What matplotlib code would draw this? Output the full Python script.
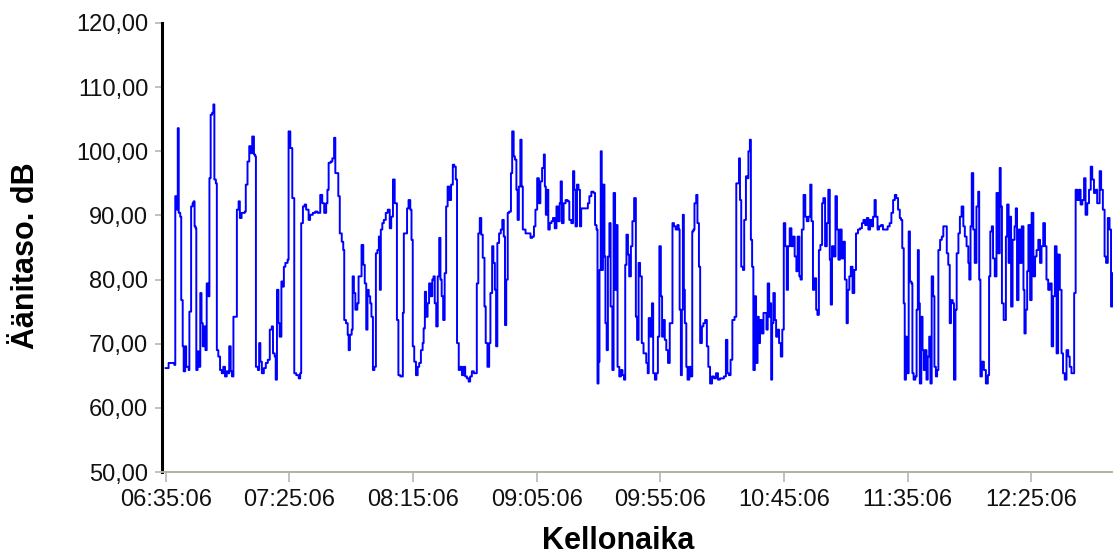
import matplotlib
matplotlib.use("Agg")
import matplotlib.pyplot as plt

plt.rcParams["font.family"] = ["Liberation Sans", "DejaVu Sans"]

# minutes after 06:35:06, sound level in dB
TIME_MIN = [
    0.0, 0.8, 1.2, 3.5, 3.9, 4.3, 4.6, 4.9, 5.3, 5.9, 6.3, 6.9, 7.3, 7.9, 8.3, 9.3, 9.6, 9.9,
    10.3, 10.9, 11.3, 11.7, 12.1, 12.4, 12.9, 13.4, 14.0, 14.5, 15.0, 15.6, 16.1, 16.6, 17.3,
    17.7, 18.2, 18.8, 19.3, 19.7, 20.3, 20.7, 21.3, 22.0, 22.7, 23.3, 24.0, 24.7, 25.3, 25.7,
    26.3, 26.8, 27.4, 28.4, 28.8, 29.5, 30.0, 30.7, 32.0, 32.4, 33.1, 33.8, 34.3, 35.0, 35.7,
    36.2, 36.5, 37.3, 37.8, 38.3, 38.9, 39.7, 40.5, 41.3, 42.1, 42.9, 43.4, 44.1, 44.5, 45.0,
    45.6, 46.1, 46.8, 47.4, 47.8,
    48.4, 49.3, 49.7, 50.4, 50.8, 51.2, 51.8, 52.0, 52.8, 53.8, 54.4, 54.8, 55.5, 56.2, 56.8,
    57.8, 58.4, 59.5, 60.5, 61.4, 62.5, 63.3, 64.1, 64.9, 65.4, 65.9, 66.7, 67.4, 68.1, 68.6,
    69.2, 69.8, 70.4, 71.2, 71.8, 72.2, 72.9, 73.6, 74.0, 74.5, 75.2, 75.6, 76.1, 76.7, 77.5,
    78.0, 78.7, 79.2, 79.9, 80.5, 81.1, 81.6, 82.1, 82.7, 83.2, 83.8, 84.4, 85.0, 85.6, 86.2,
    86.6, 87.0, 87.6, 88.2, 89.0, 89.8, 90.6, 91.2, 91.9, 92.6, 93.1, 93.5, 94.1, 94.9, 95.5,
    95.9, 96.3,
    96.9, 97.6, 98.2, 98.9, 99.4, 99.9, 100.5, 101.2, 101.9, 102.5, 103.2, 103.9, 104.3, 104.8,
    105.3, 105.9, 106.5, 107.1, 107.8, 108.3, 108.8, 109.4, 110.0, 110.6, 111.1, 111.6, 112.2,
    112.8, 113.4, 114.0, 114.7, 115.4, 116.1, 116.7, 117.3, 117.8, 118.5, 119.1, 119.8, 120.5,
    121.1, 121.8, 122.5, 123.1, 123.8, 124.6, 125.4, 125.8, 126.4, 127.0, 127.6, 128.2, 128.9,
    129.4, 130.1, 130.8, 131.3, 132.0, 132.5, 133.1, 133.6, 134.1, 134.8, 135.5, 136.1, 136.7,
    137.2, 137.7, 138.3, 138.9, 139.6, 140.1, 140.7, 141.2, 141.8, 142.3, 142.8, 143.4, 143.9,
    144.4, 144.8,
    145.5, 146.4, 147.5, 148.2, 148.9, 149.5, 150.2, 150.9, 151.5, 152.2, 152.9, 153.3, 153.7,
    154.2, 154.7, 155.3, 156.0, 156.6, 157.3, 158.0, 158.6, 159.3, 159.7, 160.2, 160.9, 161.7,
    162.5, 163.2, 164.0, 164.7, 165.2, 165.7, 166.3, 166.9, 167.5, 168.0, 168.9, 169.9, 170.7,
    171.3, 172.1, 173.0, 173.6, 174.2, 174.6, 175.0, 175.4, 175.9, 176.3, 176.8, 177.4, 177.8,
    178.3, 178.8, 179.4, 179.9, 180.6, 181.1, 181.7, 182.2, 182.7, 183.4, 184.1, 184.7, 185.3,
    185.8, 186.3, 186.9, 187.4, 188.1, 188.7, 189.4, 190.1, 190.6, 191.2, 191.8, 192.5, 193.2,
    194.3, 194.9, 195.3, 196.0, 196.6, 197.1, 197.8, 198.4, 199.0, 199.6, 200.2, 200.7, 201.2,
    201.8, 202.4, 203.1, 203.8, 204.4, 204.9, 205.5, 206.2, 206.9, 207.4, 207.8, 208.3, 208.7,
    209.1, 209.5, 209.9, 210.5, 211.0, 211.7, 212.3, 212.9, 213.4, 213.8, 214.5, 215.0, 215.6,
    216.1, 216.8, 217.4, 218.1, 218.8, 219.4, 220.1, 220.9, 221.7, 222.5, 223.3, 224.1, 225.1,
    225.7, 226.5, 227.1, 227.7, 228.4, 229.1, 230.0, 230.7, 231.2, 231.8, 232.2, 232.7, 233.4,
    233.9, 234.6, 235.1, 235.6, 236.2, 236.6, 237.1, 237.6, 238.2, 238.7, 239.3, 239.8, 240.3,
    241.0, 241.7,
    242.9, 243.4, 244.0, 244.4, 244.8, 245.2, 245.7, 246.3, 246.8, 247.5, 248.0, 248.7, 249.3,
    249.9, 250.5, 251.1, 251.6, 252.3, 253.0, 253.6, 254.3, 255.0, 255.5, 256.2, 256.7, 257.2,
    257.9, 258.6, 259.2, 259.9, 260.6, 261.1, 261.7, 262.3, 263.0, 263.5, 264.1, 264.7, 265.4,
    265.9, 266.6, 267.3, 267.9, 268.5, 268.9, 269.4, 270.1, 270.8, 271.4, 272.0, 272.6, 273.3,
    274.0, 274.6, 275.3, 275.8, 276.4, 277.0, 277.7, 278.4, 279.1, 279.9, 280.7, 281.5, 282.1,
    282.8, 283.5, 284.1, 284.8, 285.5, 286.0, 286.6, 287.1, 287.8, 288.4, 289.2, 290.0,
    291.0, 291.9, 292.7, 293.4, 294.1, 294.8, 295.4, 296.1, 296.8, 297.3, 297.8, 298.4, 298.8,
    299.3, 299.7, 300.4, 300.9, 301.5, 301.9, 302.4, 303.1, 303.6, 304.1, 304.5, 304.9, 305.5,
    306.0, 306.5, 307.1, 307.6, 308.1, 308.7, 309.2, 309.7, 310.3, 310.8, 311.4, 311.9, 312.4,
    313.1, 313.8, 314.4, 315.1, 315.8, 316.4, 317.0, 317.5, 318.2, 318.7, 319.3, 319.8, 320.5,
    321.1, 321.8, 322.5, 323.1, 323.8, 324.5, 324.9, 325.4, 325.9, 326.5, 327.1, 327.8, 328.5,
    328.9, 329.4, 330.0, 330.8, 331.6, 332.4, 332.9, 333.4, 334.0, 334.5, 335.2, 335.9, 336.5,
    337.2, 337.6, 338.1, 338.8,
    339.7, 340.2, 340.8, 341.4, 341.8, 342.4, 343.2, 343.7, 344.2, 344.8, 345.4, 346.1, 346.8,
    347.2, 347.7, 348.3, 348.8, 349.5, 350.1, 350.8, 351.5, 352.1, 352.8, 353.5, 354.1, 354.8,
    355.5, 356.1, 356.8, 357.5, 358.2, 358.8, 359.5, 360.2, 360.8, 361.5, 362.2, 362.8, 363.5,
    364.2, 364.9, 365.5, 366.2, 366.8, 367.3, 367.9, 368.6, 369.3, 369.9, 370.6, 371.3, 371.9,
    372.6, 373.3, 374.0, 374.6, 375.3, 376.0, 376.6, 377.6, 378.2, 378.9, 379.6, 380.2, 380.9,
    381.6, 382.2, 382.8,
]

LEVEL_DB = [
    66.2, 66.2, 67.0, 66.7, 93.0, 92.4, 90.9, 103.6, 90.4, 89.8, 76.8, 69.6, 65.7, 69.6, 66.4,
    65.9, 75.0, 75.0, 91.4, 91.9, 92.2, 88.3, 88.0, 65.9, 68.8, 66.4, 77.9, 73.2, 69.6, 72.7,
    69.0, 79.4, 77.4, 95.8, 105.7, 106.0, 107.3, 95.6, 95.0, 69.0, 68.0, 65.9, 65.4, 66.4, 64.9,
    65.7, 65.4, 69.6, 65.7, 64.9, 74.2, 74.2, 90.9, 92.2, 89.6, 90.4, 90.6, 94.8, 98.4, 100.8,
    99.7, 102.3, 99.5, 99.2, 66.4, 65.9, 70.1, 67.2, 65.4, 66.2, 67.0, 67.5, 72.2, 72.7, 68.5,
    68.0, 64.4, 78.4, 73.2, 71.1, 79.7, 78.9, 82.0,
    82.6, 83.1, 103.1, 100.5, 100.5, 92.7, 92.7, 65.4, 65.1, 64.6, 65.4, 88.8, 91.4, 91.7, 90.9,
    89.3, 90.1, 90.4, 90.6, 90.4, 93.2, 91.9, 90.4, 91.9, 94.0, 98.2, 98.4, 98.9, 102.1, 96.6,
    96.6, 93.0, 87.2, 85.9, 84.6, 73.7, 73.2, 71.4, 69.0, 71.4, 72.2, 80.5, 77.9, 75.3, 76.3,
    80.5, 80.5, 85.4, 82.3, 79.4, 72.2, 78.4, 77.4, 76.3, 74.2, 65.9, 66.4, 84.1, 84.6, 86.7,
    78.4, 87.8, 88.8, 89.3, 90.4, 90.9, 88.0, 89.8, 95.6, 91.9, 91.9, 73.7, 65.1, 64.9, 64.9,
    74.8, 87.2,
    87.2, 91.1, 92.4, 90.9, 86.2, 69.6, 67.2, 65.1, 66.4, 67.0, 69.0, 70.1, 72.4, 78.1,
    74.2, 76.3, 79.4, 77.4, 80.0, 80.5, 76.3, 72.7, 80.5, 86.5, 80.0, 77.4, 73.7,
    81.0, 91.4, 94.5, 92.4, 94.8, 97.9, 97.6, 95.6, 70.1, 65.9, 66.4, 65.1, 66.4,
    64.9, 64.6, 64.1, 64.9, 65.7, 65.4, 65.4, 79.4, 87.2, 89.6, 87.0, 83.4, 75.8,
    70.1, 66.4, 70.1, 77.9, 85.2, 82.6, 78.4, 69.6, 85.7, 87.2, 87.8, 89.3, 86.7,
    72.9, 80.0, 90.4, 90.6, 96.6, 103.1, 99.2, 98.7, 94.0, 89.3, 94.5, 101.8, 94.5,
    87.8, 87.8,
    87.2, 87.2, 86.5, 86.7, 88.3, 90.9, 95.8, 91.9, 95.3, 97.4, 99.5, 94.5, 90.1,
    94.0, 87.8, 88.8, 89.1, 89.6, 88.0, 91.4, 89.1, 91.9, 95.3, 88.8, 91.9, 92.4,
    92.2, 89.3, 88.8, 96.9, 94.0, 88.3, 94.8, 94.0, 88.3, 91.1, 91.1, 91.1, 91.9,
    93.0, 93.7, 93.5, 88.5, 87.8, 63.8, 67.2, 81.5, 100.0, 81.5, 94.8, 83.6, 73.2,
    69.0, 83.6, 88.8, 75.8, 65.9, 93.5, 78.4, 88.5, 66.4, 64.9, 65.9, 65.1, 64.4,
    82.3, 87.0, 83.9, 80.5, 85.2, 89.1, 92.7, 74.2, 70.6, 82.6, 80.5, 70.1, 68.5,
    67.0, 65.4, 74.0, 71.1, 76.3, 65.4, 64.4, 65.4, 71.1, 85.2, 77.4, 71.1, 73.7,
    70.6, 69.0, 67.0, 73.2, 73.2, 88.8, 88.3, 87.8, 88.5, 87.8, 75.3, 65.1, 75.3,
    90.1, 78.4, 73.2, 66.4, 64.4, 66.4, 64.9, 87.5, 87.8, 91.9, 93.2, 88.8, 82.0,
    70.1, 72.7, 73.2, 73.7, 69.6, 66.4, 63.8, 64.9, 64.6, 65.4, 64.4, 64.6, 64.6,
    64.9, 70.6, 65.4, 65.1, 67.5, 73.7, 74.2, 95.0, 95.0, 98.9, 92.4, 82.0, 81.5,
    89.3, 96.1, 95.8, 100.0, 101.8, 86.2, 82.0, 65.9, 77.4, 67.0, 74.2, 70.1, 73.7,
    71.6, 74.8,
    72.2, 79.4, 74.2, 76.3, 64.4, 73.2, 77.9, 73.7, 71.1, 72.2, 70.1, 68.0, 72.2,
    88.8, 85.2, 78.4, 85.2, 88.0, 85.2, 86.7, 83.6, 81.3, 86.7, 80.5, 80.0, 87.8,
    93.2, 89.8, 89.1, 89.8, 94.8, 89.1, 78.4, 80.2, 75.3, 74.5, 84.6, 85.4, 91.9,
    92.7, 85.2, 88.8, 94.0, 83.1, 76.1, 85.2, 83.6, 93.0, 87.8, 83.1, 87.8, 83.3,
    85.9, 80.0, 73.2, 78.4, 80.5, 82.0, 77.9, 81.5, 87.2, 87.8, 88.0, 88.8, 89.3,
    88.5, 89.6, 87.8, 89.3, 88.3, 89.8, 92.4, 89.8, 87.8, 88.3, 88.5, 87.8,
    87.8, 88.3, 88.8, 90.4, 92.4, 93.2, 92.7, 90.9, 89.6, 89.3, 84.9, 76.3, 64.4,
    71.1, 65.4, 87.5, 79.7, 79.4, 65.4, 64.4, 64.9, 75.3, 84.6, 76.3, 63.8, 74.2,
    69.0, 65.9, 69.0, 64.4, 68.0, 71.1, 63.8, 80.5, 77.4, 66.4, 64.9, 65.9, 84.6,
    86.2, 86.7, 88.3, 88.3, 84.1, 82.3, 73.2, 76.8, 76.3, 64.4, 75.3, 84.1, 87.2,
    89.8, 91.4, 88.3, 86.7, 85.2, 82.6, 80.0, 88.3, 96.6, 87.8, 82.6, 91.4, 93.7,
    80.0, 64.9, 67.2, 65.9, 63.8, 65.1, 80.5, 87.5, 88.3, 83.3, 80.5, 93.5, 84.1,
    97.4, 91.4, 76.3, 73.7,
    86.7, 91.7, 82.6, 89.8, 75.8, 86.2, 88.3, 91.1, 76.8, 87.8, 82.6, 88.3, 78.4,
    71.6, 75.3, 81.3, 88.5, 76.8, 90.4, 80.5, 83.6, 84.6, 86.2, 82.6, 85.2, 88.8,
    85.2, 80.0, 78.4, 79.4, 69.6, 77.4, 85.2, 68.5, 83.9, 78.4, 68.5, 65.4, 64.4,
    69.0, 68.0, 66.4, 65.4, 65.4, 77.9, 94.0, 92.4, 94.0, 91.7, 92.4, 95.8, 90.1,
    91.9, 94.0, 97.6, 95.6, 93.5, 94.0, 91.9, 96.9, 94.0, 90.9, 83.6, 82.6, 89.6,
    87.8, 75.8, 81.0,
]

X_TICKS = [0, 50, 100, 150, 200, 250, 300, 350]
X_TICK_LABELS = ["06:35:06", "07:25:06", "08:15:06", "09:05:06",
                 "09:55:06", "10:45:06", "11:35:06", "12:25:06"]
Y_TICKS = [50, 60, 70, 80, 90, 100, 110, 120]

AXIS_GREY = "#b4b0a2"

fig = plt.figure(figsize=(11.13, 5.58), dpi=100)
ax = fig.add_axes([0.1456, 0.1541, 0.8544, 0.8047])

ax.plot(TIME_MIN, LEVEL_DB, color="#0000ff", lw=1.4, drawstyle="steps-post")

ax.set_xlim(-1.45, 383.0)
ax.set_ylim(50, 120)
ax.set_xticks(X_TICKS)
ax.set_xticklabels(X_TICK_LABELS)
ax.set_yticks(Y_TICKS)
ax.set_yticklabels([f"{v:.2f}".replace(".", ",") for v in Y_TICKS])

for s in ("top", "right"):
    ax.spines[s].set_visible(False)
ax.spines["left"].set_color("black")
ax.spines["left"].set_linewidth(2.2)
ax.spines["bottom"].set_color(AXIS_GREY)
ax.spines["bottom"].set_linewidth(1.4)

ax.tick_params(axis="y", length=5, width=1.1, color=AXIS_GREY, pad=5,
               labelsize=17, labelcolor="#111111")
ax.tick_params(axis="x", length=7, width=1.1, color=AXIS_GREY, pad=5,
               labelsize=17, labelcolor="#111111")

fig.text(26.5 / 1113, 1 - 255.5 / 558, "Äänitaso. dB", rotation=90,
         ha="center", va="center", fontsize=22, fontweight="bold")
fig.text(618 / 1113, 0.003, "Kellonaika", ha="center", va="bottom",
         fontsize=22, fontweight="bold")

fig.savefig("out.png", dpi=100)
